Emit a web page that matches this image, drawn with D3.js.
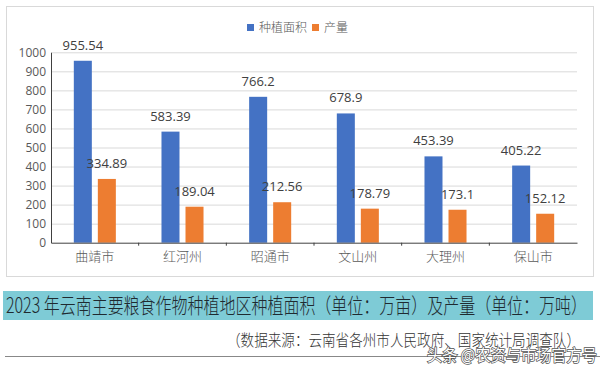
<!DOCTYPE html>
<html>
<head>
<meta charset="utf-8">
<script src="https://cdn.jsdelivr.net/npm/d3@7"></script>
<style>
    html, body { margin: 0; padding: 0; background: #fff; }
    svg { display: block; }
    text { font-family: "Noto Sans CJK SC", "Noto Sans", sans-serif; }
    .num { font-family: "Open Sans", "Liberation Sans", sans-serif; }
</style>
</head>
<body>
<svg id="chart"></svg>
<script>
(function() {
    'use strict';

    // Data
    const categories = ['曲靖市', '红河州', '昭通市', '文山州', '大理州', '保山市'];
    const seriesNames = ['种植面积', '产量'];
    const plantedArea = [955.54, 583.39, 766.2, 678.9, 453.39, 405.22];
    const output = [334.89, 189.04, 212.56, 178.79, 173.1, 152.12];
    const yTicks = [0, 100, 200, 300, 400, 500, 600, 700, 800, 900, 1000];
    const titleText = '2023 年云南主要粮食作物种植地区种植面积（单位：万亩）及产量（单位：万吨）';
    const sourceText = '（数据来源：云南省各州市人民政府、国家统计局调查队）';
    const watermarkText = '头条 @农资与市场官方号';

    const colors = { '种植面积': '#4472c4', '产量': '#ed7d31' };

    const width = 609, height = 372;
    const plot = { left: 51, right: 577, top: 52.3, bottom: 242.7 };

    const svg = d3.select('#chart')
        .attr('width', width)
        .attr('height', height);

    // Chart frame
    svg.append('rect')
        .attr('x', 6.5).attr('y', 6.5)
        .attr('width', 587).attr('height', 270)
        .attr('fill', '#fff')
        .attr('stroke', '#d9d9d9');

    // Scales
    const x = d3.scaleBand()
        .domain(categories)
        .range([plot.left, plot.right])
        .padding(0);

    const xSub = d3.scaleBand()
        .domain(seriesNames)
        .range([0, x.bandwidth()])
        .paddingInner(0.25)
        .paddingOuter(0.95);

    const y = d3.scaleLinear()
        .domain([0, 1000])
        .range([plot.bottom, plot.top]);

    // Grid lines
    svg.append('g')
        .attr('transform', `translate(${plot.left},0)`)
        .call(d3.axisLeft(y).tickValues(yTicks.slice(1)).tickSize(-(plot.right - plot.left)).tickFormat(''))
        .call(g => g.select('.domain').remove())
        .call(g => g.selectAll('line').attr('stroke', '#d9d9d9'));

    // Rows of values for each category
    const rows = categories.map((c, i) => ({
        category: c,
        values: [
            { key: seriesNames[0], value: plantedArea[i] },
            { key: seriesNames[1], value: output[i] }
        ]
    }));

    const groups = svg.append('g')
        .selectAll('g')
        .data(rows)
        .enter()
        .append('g')
        .attr('transform', d => `translate(${x(d.category)},0)`);

    groups.selectAll('rect')
        .data(d => d.values)
        .enter()
        .append('rect')
        .attr('x', d => xSub(d.key))
        .attr('y', d => y(d.value))
        .attr('width', xSub.bandwidth())
        .attr('height', d => y(0) - y(d.value))
        .attr('fill', d => colors[d.key]);

    groups.selectAll('text')
        .data(d => d.values)
        .enter()
        .append('text')
        .attr('class', 'num')
        .attr('x', d => xSub(d.key) + xSub.bandwidth() / 2)
        .attr('y', d => y(d.value) - 11)
        .attr('text-anchor', 'middle')
        .style('font-size', '13px')
        .style('fill', '#404040')
        .text(d => d.value);

    // Y axis
    const yAxis = svg.append('g')
        .attr('transform', `translate(${plot.left},0)`)
        .call(d3.axisLeft(y).tickValues(yTicks).tickFormat(d3.format('d')).tickSize(0).tickPadding(5));
    yAxis.select('.domain').attr('stroke', '#404040');
    yAxis.selectAll('text')
        .attr('class', 'num')
        .style('font-size', '12px')
        .style('fill', '#595959');

    // X axis with ticks on band edges
    const xAxis = svg.append('g')
        .attr('transform', `translate(0,${plot.bottom})`)
        .call(d3.axisBottom(x).tickSize(0).tickPadding(9));
    xAxis.select('.domain').attr('stroke', '#404040');
    xAxis.selectAll('text')
        .style('font-size', '13px')
        .style('font-weight', '300')
        .style('fill', '#595959');
    xAxis.selectAll('.edge')
        .data(categories.slice(1))
        .enter()
        .append('line')
        .attr('class', 'edge')
        .attr('x1', d => x(d)).attr('x2', d => x(d))
        .attr('y1', 0).attr('y2', 3)
        .attr('stroke', '#404040');

    // Legend
    const legend = svg.append('g').attr('transform', 'translate(247,24)');
    const legendX = [0, 65];
    seriesNames.forEach((name, i) => {
        legend.append('rect')
            .attr('x', legendX[i]).attr('y', 0)
            .attr('width', 7).attr('height', 7)
            .attr('fill', colors[name]);
        legend.append('text')
            .attr('x', legendX[i] + 12).attr('y', 8)
            .style('font-size', '12px')
            .style('font-weight', '300')
            .style('fill', '#595959')
            .text(name);
    });

    // Title bar
    svg.append('rect')
        .attr('x', 3).attr('y', 291)
        .attr('width', 590).attr('height', 29)
        .attr('fill', '#7ecbd6');
    svg.append('text')
        .attr('x', 6).attr('y', 313)
        .attr('textLength', 581)
        .attr('lengthAdjust', 'spacingAndGlyphs')
        .style('font-size', '21px')
        .style('font-weight', '300')
        .style('fill', '#1f2a30')
        .text(titleText);

    // Source note
    svg.append('text')
        .attr('x', 227).attr('y', 346)
        .attr('textLength', 353)
        .attr('lengthAdjust', 'spacingAndGlyphs')
        .style('font-size', '16px')
        .style('font-weight', '300')
        .style('fill', '#333')
        .text(sourceText);

    svg.append('line')
        .attr('x1', 5).attr('x2', 600)
        .attr('y1', 356.5).attr('y2', 356.5)
        .attr('stroke', '#888');

    // Watermark
    svg.append('text')
        .attr('x', 427).attr('y', 361)
        .attr('textLength', 170)
        .attr('lengthAdjust', 'spacingAndGlyphs')
        .style('font-size', '16px')
        .style('fill', '#fff')
        .style('stroke', '#555')
        .style('stroke-width', '1.5px')
        .style('paint-order', 'stroke')
        .text(watermarkText);
})();
</script>
</body>
</html>
